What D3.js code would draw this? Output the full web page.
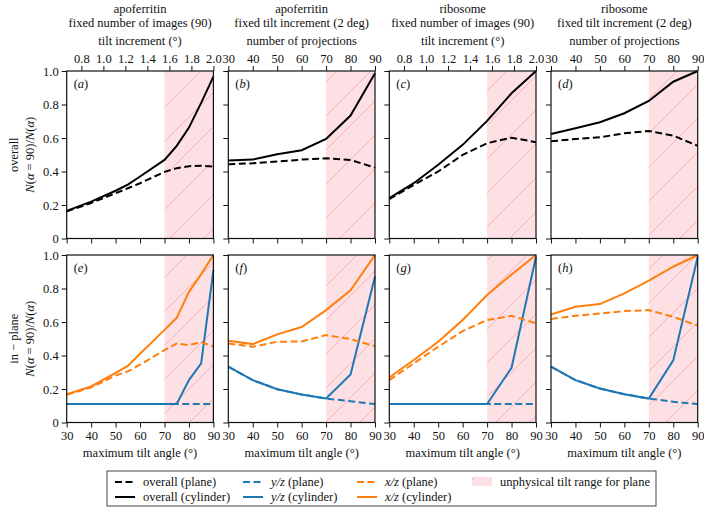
<!DOCTYPE html>
<html><head><meta charset="utf-8">
<script src="https://cdn.jsdelivr.net/npm/d3@7"></script>
<style>
body{margin:0;background:#fff;}
svg text{font-family:"Liberation Serif","Times New Roman",Times,serif;fill:#111;}
</style></head>
<body><svg id="c" width="704" height="509"></svg>
<script>
// ---------- data ----------
const alphaImgAE = [30,40,50,55,60,70,75,80,85,90];
const alpha10 = [30,40,50,60,70,80,90];
const tiltIncTicks = [0.8,1.0,1.2,1.4,1.6,1.8,2.0];
const projTicks = [30,40,50,60,70,80,90];
const yTicks = [0,0.2,0.4,0.6,0.8,1.0];
const physMax = 70;

// (a) apoferritin, fixed number of images
const aPlane = [0.162,0.212,0.27,0.30,0.33,0.398,0.42,0.432,0.435,0.43];
const aCyl   = [0.165,0.22,0.285,0.322,0.37,0.469,0.553,0.662,0.81,0.966];
// (b) apoferritin, fixed tilt increment
const bPlane = [0.443,0.449,0.459,0.471,0.479,0.469,0.423];
const bCyl   = [0.465,0.471,0.503,0.527,0.594,0.734,0.986];
// (c) ribosome, fixed number of images
const cPlane = [0.235,0.32,0.40,0.499,0.569,0.602,0.575];
const cCyl   = [0.241,0.33,0.44,0.559,0.702,0.867,1.0];
// (d) ribosome, fixed tilt increment
const dPlane = [0.58,0.594,0.604,0.628,0.642,0.614,0.553];
const dCyl   = [0.624,0.658,0.694,0.748,0.821,0.936,1.0];
// (e)
const eYzPlane = [0.11,0.11,0.11,0.11,0.11,0.11,0.11,0.11,0.11,0.11];
const eYzCyl   = [0.11,0.11,0.11,0.11,0.11,0.11,0.11,0.253,0.353,0.91];
const eXzPlane = [0.165,0.21,0.28,0.305,0.345,0.432,0.472,0.462,0.48,0.454];
const eXzCyl   = [0.169,0.215,0.296,0.338,0.41,0.553,0.625,0.78,0.886,1.0];
// (f)
const fYzPlane = [0.333,0.253,0.199,0.167,0.143,0.127,0.11];
const fYzCyl   = [0.333,0.253,0.199,0.167,0.143,0.287,0.871];
const fXzPlane = [0.472,0.452,0.482,0.484,0.522,0.498,0.456];
const fXzCyl   = [0.488,0.468,0.526,0.570,0.671,0.789,1.0];
// (g)
const gYzPlane = [0.11,0.11,0.11,0.11,0.11,0.11,0.11];
const gYzCyl   = [0.11,0.11,0.11,0.11,0.11,0.327,0.99];
const gXzPlane = [0.253,0.353,0.452,0.546,0.612,0.637,0.592];
const gXzCyl   = [0.269,0.373,0.482,0.612,0.761,0.884,1.0];
// (h)
const hYzPlane = [0.333,0.253,0.203,0.169,0.143,0.124,0.11];
const hYzCyl   = [0.333,0.253,0.203,0.169,0.143,0.371,0.99];
const hXzPlane = [0.618,0.637,0.651,0.665,0.671,0.631,0.578];
const hXzCyl   = [0.645,0.691,0.707,0.771,0.847,0.93,1.0];

const colTitles = [
  ["apoferritin","fixed number of images (90)","tilt increment (°)"],
  ["apoferritin","fixed tilt increment (2 deg)","number of projections"],
  ["ribosome","fixed number of images (90)","tilt increment (°)"],
  ["ribosome","fixed tilt increment (2 deg)","number of projections"]
];
const rowLabels = ["overall","in \u2212 plane"];
const panelLetters = ["a","b","c","d","e","f","g","h"];
const legendItems = [
  {k:"black",dash:true,pre:"overall (plane)",it:""},
  {k:"blue",dash:true,it:"y/z",pre:" (plane)"},
  {k:"orange",dash:true,it:"x/z",pre:" (plane)"},
  {k:"patch",pre:"unphysical tilt range for plane",it:""},
  {k:"black",dash:false,pre:"overall (cylinder)",it:""},
  {k:"blue",dash:false,it:"y/z",pre:" (cylinder)"},
  {k:"orange",dash:false,it:"x/z",pre:" (cylinder)"}
];

// ---------- layout ----------
const COLORS = {black:"#000", blue:"#1f77b4", orange:"#ff7f0e"};
const lefts = [66.7,228.3,389.3,551];
const PW = 146.7;
const tops = [71,255];
const PH = 167.5;
const FS = 12.5;
const svg = d3.select("#c");

const HP = 34;
const defs = svg.append("defs");
const pat = defs.append("pattern").attr("id","hatch").attr("patternUnits","userSpaceOnUse")
  .attr("width",HP).attr("height",HP);
pat.append("rect").attr("width",HP).attr("height",HP).attr("fill","#fde0e4");
pat.append("path").attr("d",`M-2,2 L2,-2 M0,${HP} L${HP},0 M${HP-2},${HP+2} L${HP+2},${HP-2}`)
  .attr("stroke","#f7a3ad").attr("stroke-width",0.8);

const panels = [
  {col:0,row:0,x:alphaImgAE,series:[[aPlane,"black",1],[aCyl,"black",0]]},
  {col:1,row:0,x:alpha10,series:[[bPlane,"black",1],[bCyl,"black",0]]},
  {col:2,row:0,x:alpha10,series:[[cPlane,"black",1],[cCyl,"black",0]]},
  {col:3,row:0,x:alpha10,series:[[dPlane,"black",1],[dCyl,"black",0]]},
  {col:0,row:1,x:alphaImgAE,series:[[eYzPlane,"blue",1],[eYzCyl,"blue",0],[eXzPlane,"orange",1],[eXzCyl,"orange",0]]},
  {col:1,row:1,x:alpha10,series:[[fYzPlane,"blue",1],[fYzCyl,"blue",0],[fXzPlane,"orange",1],[fXzCyl,"orange",0]]},
  {col:2,row:1,x:alpha10,series:[[gYzPlane,"blue",1],[gYzCyl,"blue",0],[gXzPlane,"orange",1],[gXzCyl,"orange",0]]},
  {col:3,row:1,x:alpha10,series:[[hYzPlane,"blue",1],[hYzCyl,"blue",0],[hXzPlane,"orange",1],[hXzCyl,"orange",0]]}
];

function styleAxis(g){
  g.selectAll(".domain").remove();
  g.selectAll(".tick line").attr("stroke","#111").attr("stroke-width",1);
  g.selectAll(".tick text").style("font-size",FS+"px").attr("fill","#111");
}

panels.forEach((p,i)=>{
  const x0 = lefts[p.col], y0 = tops[p.row];
  const x = d3.scaleLinear().domain([30,90]).range([x0,x0+PW]);
  const y = d3.scaleLinear().domain([0,1]).range([y0+PH,y0]);
  const g = svg.append("g");
  // unphysical region
  g.append("rect").attr("x",x(physMax)).attr("y",y(1)).attr("width",x(90)-x(physMax))
   .attr("height",y(0)-y(1)).attr("fill","url(#hatch)");
  // left axis
  const ly = g.append("g").attr("transform",`translate(${x0},0)`)
    .call(d3.axisLeft(y).tickValues(yTicks).tickSize(5).tickPadding(3)
      .tickFormat(p.col===0 ? (d=>d===0?"0":d3.format(".1f")(d)) : ""));
  styleAxis(ly);
  // bottom axis
  const bx = g.append("g").attr("transform",`translate(0,${y0+PH})`)
    .call(d3.axisBottom(x).tickValues(projTicks).tickSize(5).tickPadding(4)
      .tickFormat(p.row===1 ? d3.format("d") : ""));
  styleAxis(bx);
  if(p.row===0){
    let tx;
    if(p.col%2===0){
      const inc = d3.scaleLinear().domain([30/45,2.0]).range([x0,x0+PW]);
      tx = d3.axisTop(inc).tickValues(tiltIncTicks).tickFormat(d3.format(".1f"));
    } else {
      tx = d3.axisTop(x).tickValues(projTicks).tickFormat(d3.format("d"));
    }
    const tg = g.append("g").attr("transform",`translate(0,${y0})`).call(tx.tickSize(5).tickPadding(3));
    styleAxis(tg);
    const t = colTitles[p.col];
    const cx = x0+PW/2;
    g.append("text").attr("x",cx).attr("y",13).attr("text-anchor","middle").style("font-size",FS+"px").text(t[0]);
    g.append("text").attr("x",cx).attr("y",27).attr("text-anchor","middle").style("font-size",FS+"px").text(t[1]);
    g.append("text").attr("x",cx).attr("y",45).attr("text-anchor","middle").style("font-size",FS+"px").text(t[2]);
  } else {
    g.append("text").attr("x",x0+PW/2).attr("y",457).attr("text-anchor","middle").style("font-size",FS+"px")
      .text("maximum tilt angle (°)");
  }
  // lines
  const line = d3.line().x((d,j)=>x(p.x[j])).y(d=>y(d));
  p.series.forEach(([vals,c,dashed])=>{
    g.append("path").datum(vals).attr("d",line).attr("fill","none")
      .attr("stroke",COLORS[c]).attr("stroke-width",2)
      .attr("stroke-dasharray",dashed?"7,3.5":null);
  });
  // frame
  g.append("rect").attr("x",x0).attr("y",y0).attr("width",PW).attr("height",PH)
   .attr("fill","none").attr("stroke","#111").attr("stroke-width",1.2);
  // panel letter
  const lt = g.append("text").attr("x",x0+7).attr("y",y0+17).style("font-size",FS+"px");
  lt.append("tspan").text("(");
  lt.append("tspan").style("font-style","italic").text(panelLetters[i]);
  lt.append("tspan").text(")");
});

// row labels
rowLabels.forEach((lab,r)=>{
  const cy = tops[r]+PH/2;
  svg.append("text").attr("transform",`translate(18,${cy}) rotate(-90)`).attr("text-anchor","middle")
    .style("font-size",FS+"px").text(lab);
  const t = svg.append("text").attr("transform",`translate(34,${cy}) rotate(-90)`).attr("text-anchor","middle")
    .style("font-size",FS+"px");
  [["N",1],["(",0],["\u03b1",1],[" = 90)/",0],["N",1],["(",0],["\u03b1",1],[")",0]].forEach(([s,it])=>{
    t.append("tspan").style("font-style",it?"italic":"normal").text(s);
  });
});

// legend
const lg = svg.append("g");
lg.append("rect").attr("x",107).attr("y",471).attr("width",549).attr("height",35)
  .attr("fill","#fff").attr("stroke","#444").attr("stroke-width",1);
const colX = [115,243,357,472];
legendItems.forEach((it,i)=>{
  const col = i<4 ? i : i-4;
  const row = i<4 ? 0 : 1;
  const ly = 482 + row*15;
  const lx = colX[col];
  if(it.k==="patch"){
    lg.append("rect").attr("x",lx).attr("y",ly-5).attr("width",20).attr("height",9).attr("fill","url(#hatch)");
  } else {
    lg.append("line").attr("x1",lx).attr("x2",lx+20).attr("y1",ly).attr("y2",ly)
      .attr("stroke",COLORS[it.k]).attr("stroke-width",2).attr("stroke-dasharray",it.dash?"7,3.5":null);
  }
  const t = lg.append("text").attr("x",lx+28).attr("y",ly+4).style("font-size",FS+"px");
  if(it.it) t.append("tspan").style("font-style","italic").text(it.it);
  t.append("tspan").text(it.pre);
});
</script></body></html>
